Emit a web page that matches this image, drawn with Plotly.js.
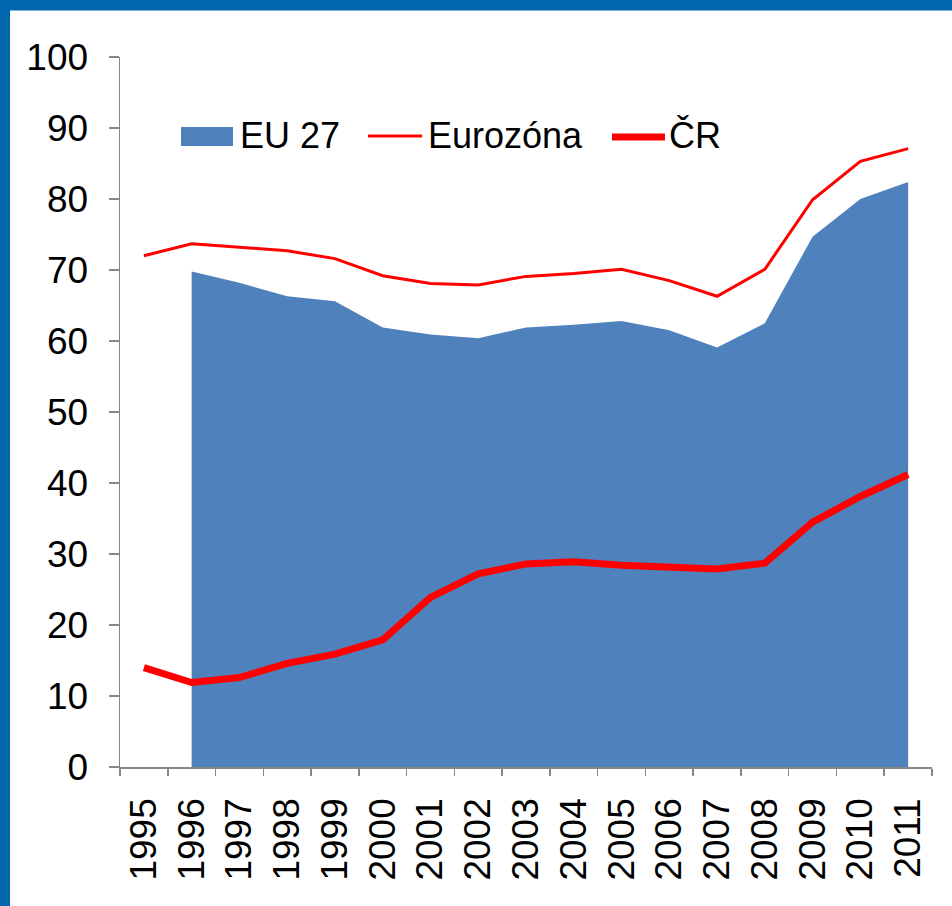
<!DOCTYPE html>
<html>
<head>
<meta charset="utf-8">
<script src="https://cdn.plot.ly/plotly-3.0.1.min.js"></script>
<style>
html,body{margin:0;padding:0;background:#fff;}
#chart{width:952px;height:906px;}
</style>
</head>
<body>
<div id="chart"></div>
<script>
var years = ['1995','1996','1997','1998','1999','2000','2001','2002','2003','2004','2005','2006','2007','2008','2009','2010','2011'];
var eu27Years = ['1996','1997','1998','1999','2000','2001','2002','2003','2004','2005','2006','2007','2008','2009','2010','2011'];
var eu27 = [69.8, 68.2, 66.3, 65.6, 61.9, 60.9, 60.4, 61.9, 62.3, 62.8, 61.5, 59.1, 62.5, 74.7, 80.0, 82.4];
var eurozona = [72.0, 73.7, 73.2, 72.7, 71.6, 69.2, 68.1, 67.9, 69.1, 69.5, 70.1, 68.5, 66.3, 70.1, 79.9, 85.3, 87.1];
var cr = [14.0, 11.9, 12.6, 14.6, 15.9, 17.9, 23.9, 27.2, 28.6, 28.9, 28.4, 28.2, 27.9, 28.7, 34.5, 38.1, 41.2];
var legendLabels = ['EU 27', 'Eurozóna', 'ČR'];

var FONT = 'Liberation Sans, Arial, sans-serif';
var BLUE = '#4F81BD';
var RED = '#FF0000';
var FRAME = '#0067AE';
var AXIS = '#878787';

// pixel -> paper helpers (plot area: x 120..932, y 57..767)
function px(x){ return (x - 120) / 812; }
function py(y){ return (767 - y) / 710; }

var traces = [
  {x: eu27Years, y: eu27, type: 'scatter', mode: 'none', fill: 'tozeroy', fillcolor: BLUE, name: legendLabels[0], hoverinfo: 'x+y'},
  {x: years, y: eurozona, type: 'scatter', mode: 'lines', line: {color: RED, width: 3}, name: legendLabels[1]},
  {x: years, y: cr, type: 'scatter', mode: 'lines', line: {color: RED, width: 7}, name: legendLabels[2]}
];

var layout = {
  width: 952, height: 906,
  margin: {l: 120, r: 20, t: 57, b: 139},
  paper_bgcolor: '#ffffff', plot_bgcolor: '#ffffff',
  showlegend: false,
  font: {family: FONT, size: 36, color: '#000'},
  xaxis: {
    type: 'category', categoryorder: 'array', categoryarray: years,
    range: [-0.5, 16.5], showgrid: false, zeroline: false,
    showline: true, linecolor: AXIS, linewidth: 1.5,
    ticks: 'outside', tickson: 'boundaries', ticklen: 7, tickcolor: AXIS, tickwidth: 1.5,
    tickangle: -90, tickfont: {family: FONT, size: 37, color: '#000'},
    ticklabelstandoff: 15
  },
  yaxis: {
    range: [0, 100], dtick: 10, tick0: 0, showgrid: false, zeroline: false,
    showline: true, linecolor: AXIS, linewidth: 1.5,
    ticks: 'outside', ticklen: 10, tickcolor: AXIS, tickwidth: 1.5,
    tickfont: {family: FONT, size: 37, color: '#000'},
    ticklabelstandoff: 13
  },
  shapes: [
    // frame
    {type: 'rect', xref: 'paper', yref: 'paper', x0: px(0), x1: px(10), y0: py(906), y1: py(0), fillcolor: FRAME, line: {width: 0}, layer: 'above'},
    {type: 'rect', xref: 'paper', yref: 'paper', x0: px(0), x1: px(952), y0: py(10.5), y1: py(0), fillcolor: FRAME, line: {width: 0}, layer: 'above'},
    // legend keys
    {type: 'rect', xref: 'paper', yref: 'paper', x0: px(181), x1: px(233), y0: py(146), y1: py(127), fillcolor: BLUE, line: {width: 0}},
    {type: 'line', xref: 'paper', yref: 'paper', x0: px(368), x1: px(422), y0: py(136), y1: py(136), line: {color: RED, width: 3}},
    {type: 'line', xref: 'paper', yref: 'paper', x0: px(612), x1: px(665), y0: py(137), y1: py(137), line: {color: RED, width: 7}}
  ],
  annotations: [
    {xref: 'paper', yref: 'paper', x: px(238), y: py(136), xanchor: 'left', yanchor: 'middle', text: legendLabels[0], showarrow: false, font: {family: FONT, size: 36, color: '#000'}},
    {xref: 'paper', yref: 'paper', x: px(426), y: py(136), xanchor: 'left', yanchor: 'middle', text: legendLabels[1], showarrow: false, font: {family: FONT, size: 36, color: '#000'}},
    {xref: 'paper', yref: 'paper', x: px(667), y: py(136), xanchor: 'left', yanchor: 'middle', text: legendLabels[2], showarrow: false, font: {family: FONT, size: 36, color: '#000'}}
  ]
};

Plotly.newPlot('chart', traces, layout, {displayModeBar: false, staticPlot: true});
</script>
</body>
</html>
